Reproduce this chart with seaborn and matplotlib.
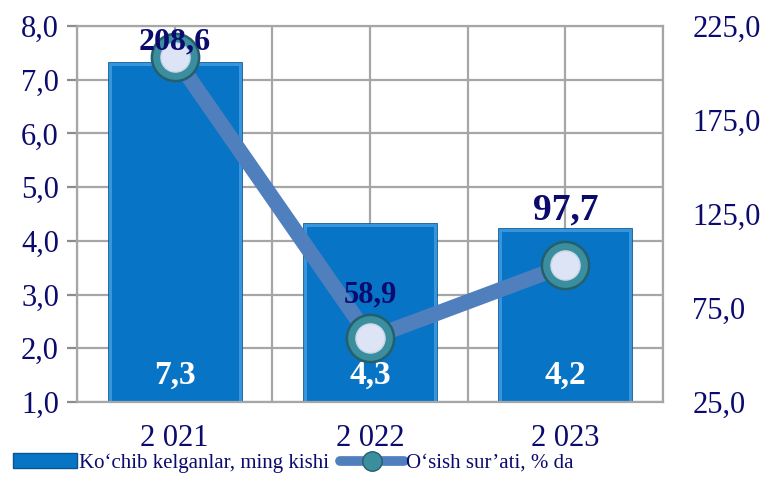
import numpy as np
import pandas as pd
import matplotlib
matplotlib.use("Agg")
import matplotlib.pyplot as plt
import matplotlib.patheffects as pe
import seaborn as sns
from matplotlib.patches import Patch
from matplotlib.lines import Line2D
from matplotlib.ticker import MultipleLocator

# data
years = ["2 021", "2 022", "2 023"]
migrants = [7.3, 4.3, 4.2]          # Ko'chib kelganlar, ming kishi
growth = [208.6, 58.9, 97.7]        # O'sish sur'ati, % da
left_ticks = [1, 2, 3, 4, 5, 6, 7, 8]
right_ticks = [25, 75, 125, 175, 225]

bar_label = "Ko\u2018chib kelganlar, ming kishi"
line_label = "O\u2018sish sur\u2019ati, % da"

navy = "#0B0B6E"
bar_color = "#0874C6"
line_color = "#4F7FBD"
grid_color = "#A6A6A6"

sns.set_style("white")
plt.rcParams["font.family"] = ["Liberation Serif", "DejaVu Serif"]

fig = plt.figure(figsize=(7.65, 4.83), dpi=100)
ax = fig.add_axes([0.1007, 0.1677, 0.7660, 0.7783])

df = pd.DataFrame({"year": years, "value": migrants})
sns.barplot(data=df, x="year", y="value", color=bar_color, width=0.665,
            saturation=1, edgecolor="#3596DE", linewidth=2.2, ax=ax, zorder=2)
# bevel-like look: light inner rim with dark outer outline
for bar in ax.patches:
    bar.set_path_effects([pe.Stroke(linewidth=3.4, foreground="#0A558F"), pe.Normal()])

ax.set_xlim(-0.5, 2.5)
ax.set_ylim(1, 8)
ax.set_yticks(left_ticks)
ax.set_yticklabels([f"{t:.1f}".replace(".", ",") for t in left_ticks])
ax.set_xticks(range(len(years)))
ax.set_xticklabels(years)
ax.xaxis.set_minor_locator(MultipleLocator(0.5))
ax.grid(True, which="both", color=grid_color, linewidth=1.6, zorder=0)
ax.set_axisbelow(True)
ax.set_xlabel("")
ax.set_ylabel("")
for s in ax.spines.values():
    s.set_color(grid_color)
    s.set_linewidth(1.6)
ax.tick_params(axis="y", which="major", length=7, width=1.6, color="#8C8C8C",
               labelsize=22, labelcolor=navy, pad=6)
ax.tick_params(axis="x", which="major", length=4, width=1.2, color="#8C8C8C",
               labelsize=22, labelcolor=navy, pad=12)
ax.tick_params(axis="x", which="minor", length=0)

# bar value labels
for i, v in enumerate(migrants):
    ax.text(i, 1.5, f"{v:.1f}".replace(".", ","), ha="center", va="center",
            color="white", fontsize=24, fontweight="bold", zorder=5)

# secondary axis with growth rate
ax2 = ax.twinx()
ax2.set_ylim(25, 225)
ax2.set_yticks(right_ticks)
ax2.set_yticklabels([f"{t:.1f}".replace(".", ",") for t in right_ticks])
ax2.tick_params(axis="y", length=0, labelsize=22, labelcolor=navy, pad=21)
for s in ax2.spines.values():
    s.set_visible(False)

xs = np.arange(len(growth))
sns.lineplot(x=xs, y=growth, ax=ax2, color=line_color, linewidth=11,
             solid_capstyle="butt", zorder=3)
ax2.plot(xs, growth, linestyle="none", marker="o", markersize=34,
         markerfacecolor="#3A8E9E", markeredgecolor="#24606C",
         markeredgewidth=1.8, zorder=4)
ax2.plot(xs, growth, linestyle="none", marker="o", markersize=21,
         markerfacecolor="#DCE4F6", markeredgecolor="#C8D8EA",
         markeredgewidth=1, zorder=5)

offsets = [11, 31, 40]
label_sizes = [23, 22, 27]
for i, (v, off, fs) in enumerate(zip(growth, offsets, label_sizes)):
    ax2.annotate(f"{v:.1f}".replace(".", ","), (i, v), xytext=(0, off),
                 textcoords="offset points", ha="center", va="center",
                 color=navy, fontsize=fs, fontweight="bold", zorder=6)

# legend
handles = [
    Patch(facecolor=bar_color, edgecolor="#0A558F"),
    Line2D([0], [0], color=line_color, linewidth=7, marker="o", markersize=14,
           markerfacecolor="#3A8E9E", markeredgecolor="#24606C"),
]
leg = fig.legend(handles, [bar_label, line_label], loc="lower left",
                 bbox_to_anchor=(0.0, -0.005), ncol=2, frameon=False,
                 fontsize=15, handlelength=3.1, handletextpad=0.1,
                 columnspacing=0.5, borderaxespad=0.2)
for t in leg.get_texts():
    t.set_color(navy)

fig.savefig("out.png", dpi=100)
